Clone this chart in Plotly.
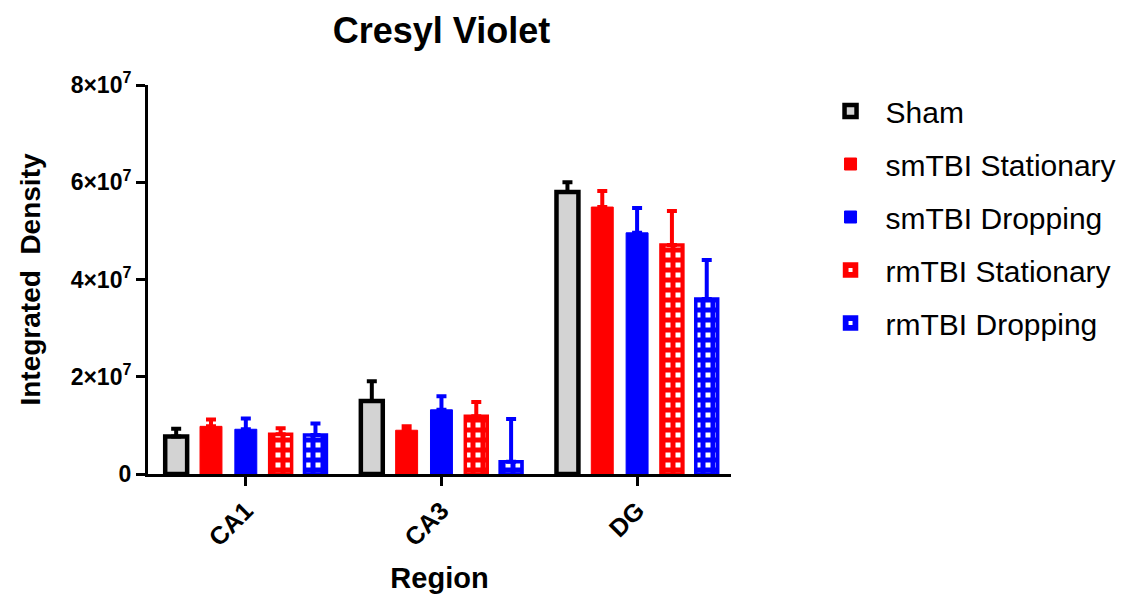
import plotly.graph_objects as go

regions = ["CA1", "CA3", "DG"]
groups = ["Sham", "smTBI Stationary", "smTBI Dropping", "rmTBI Stationary", "rmTBI Dropping"]
means = {
    "Sham": [7.7e6, 1.50e7, 5.80e7],
    "smTBI Stationary": [9.8e6, 9.0e6, 5.49e7],
    "smTBI Dropping": [9.2e6, 1.32e7, 4.96e7],
    "rmTBI Stationary": [8.2e6, 1.19e7, 4.71e7],
    "rmTBI Dropping": [8.0e6, 2.5e6, 3.60e7],
}
errors = {
    "Sham": [1.6e6, 4.1e6, 2.0e6],
    "smTBI Stationary": [1.4e6, 0.8e6, 3.3e6],
    "smTBI Dropping": [2.2e6, 2.8e6, 5.1e6],
    "rmTBI Stationary": [1.2e6, 2.9e6, 7.0e6],
    "rmTBI Dropping": [2.4e6, 8.8e6, 8.0e6],
}
ytickvals = [0, 2e7, 4e7, 6e7, 8e7]
yticktext = ["0", "2×10<sup>7</sup>", "4×10<sup>7</sup>", "6×10<sup>7</sup>", "8×10<sup>7</sup>"]

styles = {
    "Sham": dict(color="#d3d3d3", line="black", lw=4.5, pattern=None, err="black"),
    "smTBI Stationary": dict(color="#ff0000", line="#ff0000", lw=1, pattern=None, err="#ff0000"),
    "smTBI Dropping": dict(color="#0000ff", line="#0000ff", lw=1, pattern=None, err="#0000ff"),
    "rmTBI Stationary": dict(color="white", line="#ff0000", lw=3.5, pattern="#ff0000", err="#ff0000"),
    "rmTBI Dropping": dict(color="white", line="#0000ff", lw=3.5, pattern="#0000ff", err="#0000ff"),
}

FONT = "Liberation Sans, Arial, sans-serif"
fig = go.Figure()
for i, g in enumerate(groups):
    s = styles[g]
    marker = dict(color=s["color"], line=dict(color=s["line"], width=s["lw"]))
    if s["pattern"]:
        marker["pattern"] = dict(shape="+", fgcolor=s["pattern"], bgcolor="white",
                                 size=10, solidity=0.75, fillmode="replace")
    fig.add_trace(go.Bar(
        name=g, x=regions, y=means[g], marker=marker,
        legendgroup=g,
        error_y=dict(type="data", array=errors[g], arrayminus=[0] * len(regions),
                     symmetric=False, color=s["err"], thickness=4, width=5),
    ))

fig.update_layout(
    width=1134, height=602,
    margin=dict(l=148, r=399, t=85, b=126),
    paper_bgcolor="white", plot_bgcolor="white",
    barmode="group", bargap=0.11, bargroupgap=0.37,
    font=dict(family=FONT, color="black"),
    title=dict(text="<b>Cresyl Violet</b>", x=(148 + 735) / 2 / 1134, xanchor="center",
               y=0.95, yanchor="middle", font=dict(size=36, family=FONT)),
    legend=dict(x=1.145, xref="paper", xanchor="left", y=1.0, yanchor="top",
                font=dict(size=30, family=FONT), tracegroupgap=11,
                itemwidth=60, bgcolor="rgba(0,0,0,0)"),
    showlegend=True,
)
fig.update_xaxes(
    range=[-0.5, 2.48], showline=True, linecolor="black", linewidth=3,
    ticks="outside", ticklen=9, tickwidth=3, tickcolor="black",
    tickangle=-45, tickfont=dict(size=25, family=FONT, weight="bold"),
    title=dict(text="<b>Region</b>", font=dict(size=29, family=FONT), standoff=18),
    showgrid=False, zeroline=False,
)
fig.update_yaxes(
    range=[0, 8e7], tickvals=ytickvals, ticktext=yticktext,
    showline=True, linecolor="black", linewidth=3,
    ticks="outside", ticklen=9, tickwidth=3, tickcolor="black",
    tickfont=dict(size=23, family=FONT, weight="bold"),
    title=dict(text="<b>Integrated\u00a0 Density</b>", font=dict(size=28, family=FONT), standoff=22),
    showgrid=False, zeroline=False,
)
fig.write_html("out.html")
